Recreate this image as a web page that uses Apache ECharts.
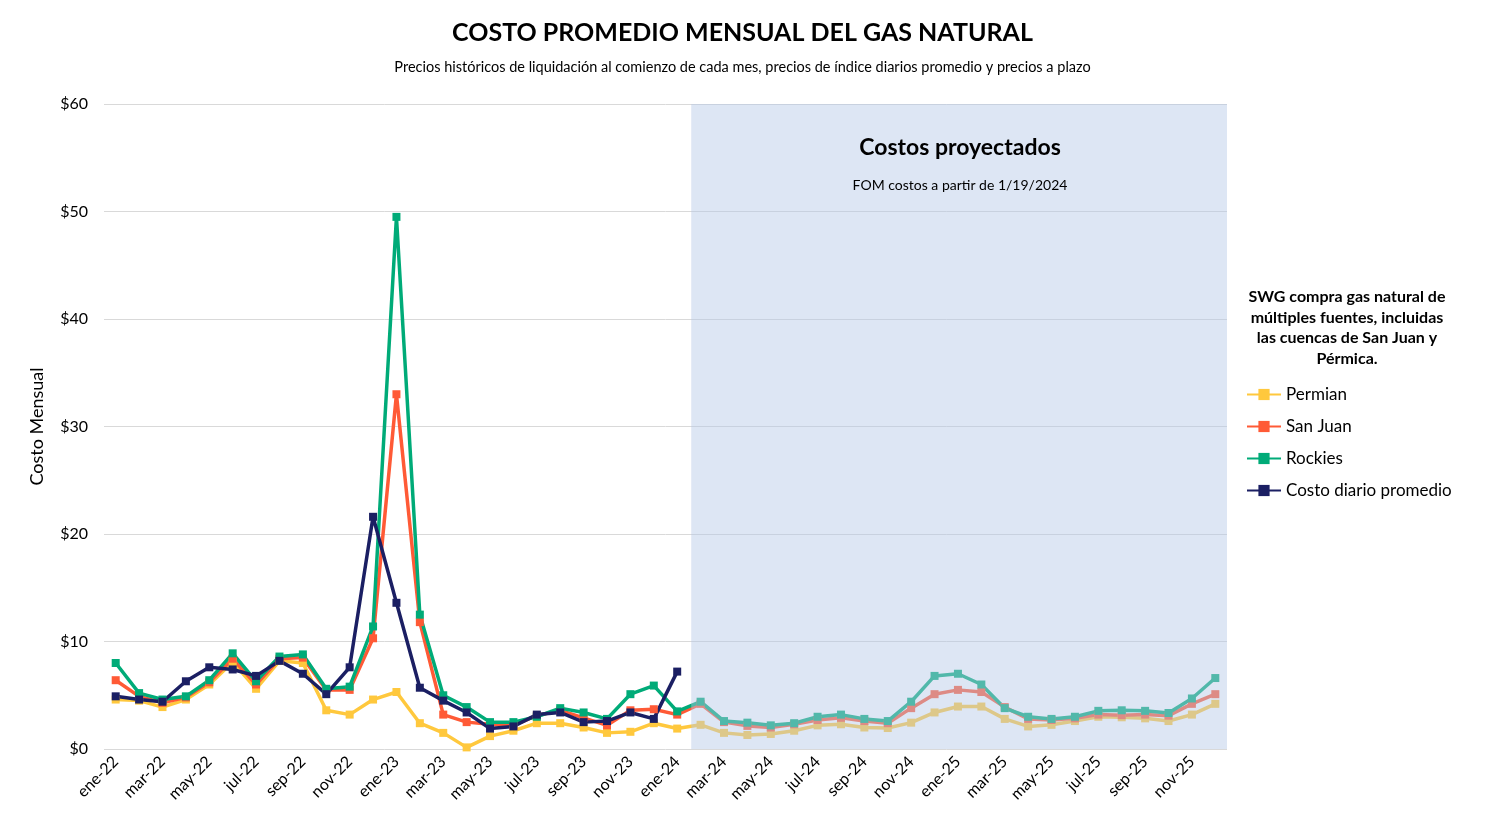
<!DOCTYPE html>
<html>
<head>
<meta charset="utf-8">
<script src="https://cdn.jsdelivr.net/npm/echarts@6/dist/echarts.min.js"></script>
<style>
  html, body { margin: 0; padding: 0; background: #fff; }
  #chart { width: 1485px; height: 834px; }
</style>
</head>
<body>
<div id="chart"></div>
<script>
// meses y años del eje x
const months = ["ene", "feb", "mar", "abr", "may", "jun", "jul", "ago", "sep", "oct", "nov", "dic"];
const years = ["22", "23", "24", "25"];
const categories = [];
years.forEach((y) => months.forEach((m) => categories.push(m + "-" + y)));

// valores ($ por mes)
const permian = [4.6, 4.5, 3.9, 4.6, 6.0, 8.1, 5.6, 8.2, 8.0, 3.6, 3.2, 4.6,
  5.3, 2.4, 1.5, 0.15, 1.2, 1.7, 2.4, 2.4, 2.0, 1.5, 1.6, 2.4,
  1.9, 2.25, 1.5, 1.3, 1.4, 1.7, 2.2, 2.3, 2.0, 1.95, 2.45, 3.4,
  3.95, 3.95, 2.8, 2.1, 2.25, 2.6, 3.0, 2.95, 2.85, 2.6, 3.2, 4.2];
const sanJuan = [6.4, 4.9, 4.3, 4.8, 6.2, 8.4, 6.0, 8.4, 8.5, 5.5, 5.5, 10.3,
  33.0, 11.8, 3.2, 2.5, 2.3, 2.2, 3.1, 3.6, 2.9, 2.2, 3.6, 3.7,
  3.2, 4.2, 2.5, 2.15, 2.0, 2.3, 2.7, 2.9, 2.6, 2.4, 3.8, 5.1,
  5.5, 5.3, 3.9, 2.8, 2.7, 2.85, 3.2, 3.15, 3.2, 3.1, 4.2, 5.1];
const rockies = [8.0, 5.2, 4.6, 4.9, 6.4, 8.9, 6.3, 8.6, 8.8, 5.6, 5.8, 11.4,
  49.5, 12.5, 5.0, 3.9, 2.5, 2.5, 3.0, 3.8, 3.4, 2.8, 5.1, 5.9,
  3.5, 4.4, 2.6, 2.45, 2.2, 2.4, 3.0, 3.2, 2.8, 2.6, 4.4, 6.8,
  7.0, 6.0, 3.8, 3.0, 2.8, 3.0, 3.55, 3.6, 3.55, 3.35, 4.7, 6.6];
const diario = [4.9, 4.6, 4.4, 6.3, 7.6, 7.4, 6.8, 8.2, 7.0, 5.1, 7.6, 21.6,
  13.6, 5.7, 4.5, 3.4, 1.9, 2.1, 3.2, 3.4, 2.5, 2.6, 3.4, 2.8,
  7.2];

const yTicks = [0, 10, 20, 30, 40, 50, 60];
// zona proyectada (en unidades de categoría)
const forecastStart = 25.1;
const forecastEnd = 48;

const font = "Lato";
const chart = echarts.init(document.getElementById("chart"));

function lineSeries(name, data, color) {
  return {
    name: name,
    type: "line",
    data: data,
    z: 2,
    symbol: "rect",
    symbolSize: 8,
    lineStyle: { width: 3.5, color: color },
    itemStyle: { color: color },
    emphasis: { disabled: true },
  };
}

chart.setOption({
  animation: false,
  textStyle: { fontFamily: font },
  title: [
    {
      text: "COSTO PROMEDIO MENSUAL DEL GAS NATURAL",
      left: "center", top: 15,
      textStyle: { fontSize: 25, fontWeight: "bold", color: "#000", fontFamily: font },
    },
    {
      text: "Precios históricos de liquidación al comienzo de cada mes, precios de índice diarios promedio y precios a plazo",
      left: "center", top: 55,
      textStyle: { fontSize: 14.5, fontWeight: "normal", color: "#000", fontFamily: font },
    },
    {
      text: "Costos proyectados",
      left: 955, top: 131, textAlign: "center", z: 20,
      textStyle: { fontSize: 23, fontWeight: "bold", color: "#000", fontFamily: font },
    },
    {
      text: "FOM costos a partir de 1/19/2024",
      left: 955, top: 173, textAlign: "center", z: 20,
      textStyle: { fontSize: 14, fontWeight: "normal", color: "#000", fontFamily: font },
    },
    {
      text: "SWG compra gas natural de\nmúltiples fuentes, incluidas\nlas cuencas de San Juan y\nPérmica.",
      left: 1342, top: 282, textAlign: "center",
      textStyle: { fontSize: 16, fontWeight: "bold", color: "#000", lineHeight: 20.5, fontFamily: font },
    },
  ],
  legend: {
    orient: "vertical",
    left: 1241, top: 381,
    itemGap: 15,
    itemWidth: 34, itemHeight: 14,
    data: ["Permian", "San Juan", "Rockies", "Costo diario promedio"],
    textStyle: { fontSize: 17, color: "#000", fontFamily: font },
  },
  grid: { left: 104, right: 258, top: 104, bottom: 85, containLabel: false },
  xAxis: [
    {
      type: "category",
      data: categories,
      boundaryGap: true,
      axisLine: { show: false },
      axisTick: { show: false },
      axisLabel: { interval: 1, rotate: 45, fontSize: 16, color: "#000", margin: 10, fontFamily: font },
    },
    {
      type: "value", min: 0, max: 48, show: false,
    },
  ],
  yAxis: {
    type: "value",
    min: yTicks[0], max: yTicks[yTicks.length - 1], interval: 10,
    name: "Costo Mensual",
    nameLocation: "middle",
    nameGap: 58,
    nameTextStyle: { fontSize: 18, color: "#000", fontFamily: font },
    axisLabel: { formatter: "${value}", fontSize: 16, color: "#000", margin: 16, fontFamily: font },
    splitLine: { lineStyle: { color: "#d9d9d9", width: 1 } },
    axisLine: { show: false },
    axisTick: { show: false },
  },
  series: [
    lineSeries("Permian", permian, "#FFC83D"),
    lineSeries("San Juan", sanJuan, "#FF5A36"),
    lineSeries("Rockies", rockies, "#00AB78"),
    lineSeries("Costo diario promedio", diario, "#1B1F63"),
    {
      name: "proyectado",
      type: "line",
      xAxisIndex: 1,
      data: [],
      z: 10,
      markArea: {
        silent: true,
        z: 10,
        itemStyle: { color: "rgba(180,199,231,0.45)" },
        data: [[{ xAxis: forecastStart, yAxis: yTicks[0] }, { xAxis: forecastEnd, yAxis: yTicks[yTicks.length - 1] }]],
      },
    },
  ],
});
</script>
</body>
</html>
